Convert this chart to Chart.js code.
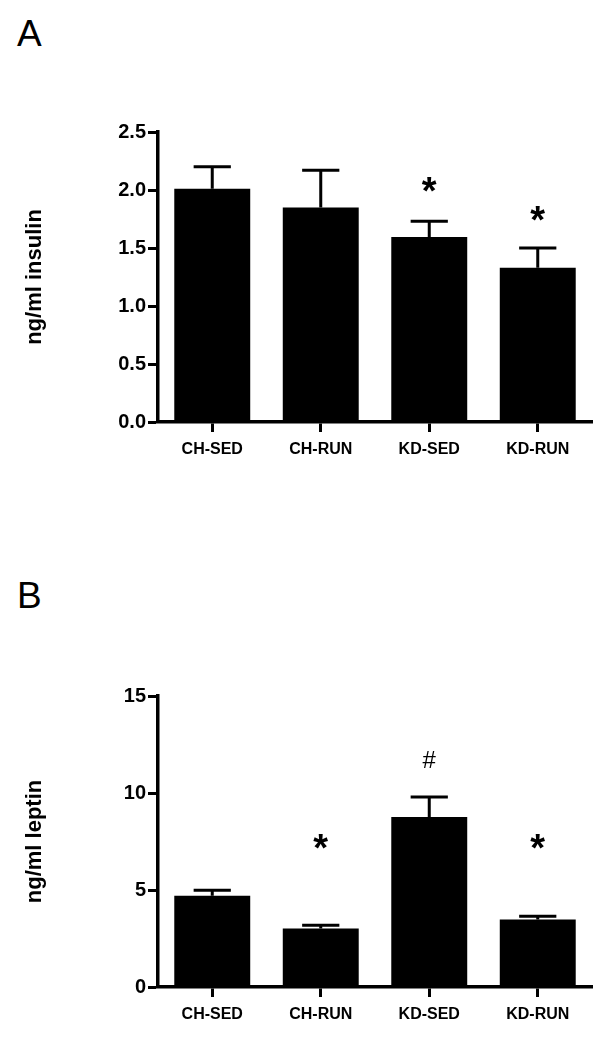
<!DOCTYPE html>
<html lang="en">
<head>
  <meta charset="UTF-8">
  <script src="https://cdn.jsdelivr.net/npm/chart.js"></script>
  <title>Insulin and leptin</title>
  <style>
    body{margin:0; background:#fff; width:614px; height:1038px; position:relative; overflow:hidden;}
    .panel{position:absolute; left:0; width:614px;}
    .letter{position:absolute; font-family:"Liberation Sans", Arial, sans-serif; font-size:37px; line-height:1; color:#000;}
  </style>
</head>
<body>
  <div class="letter" style="left:17px; top:15px;">A</div>
  <div class="panel" style="top:0; height:500px;"><canvas id="chartA"></canvas></div>
  <div class="letter" style="left:17px; top:577px;">B</div>
  <div class="panel" style="top:519px; height:519px;"><canvas id="chartB"></canvas></div>

  <script>
    const groups = ['CH-SED', 'CH-RUN', 'KD-SED', 'KD-RUN'];

    // panel A - insulin (ng/ml), mean and SEM
    const insulinMean = [2.01, 1.85, 1.595, 1.33];
    const insulinSem = [0.19, 0.32, 0.135, 0.17];
    const insulinMarks = ['', '', '*', '*'];
    const insulinMarkAt = [null, null, 2.06, 1.81];
    const insulinTicks = [0, 0.5, 1.0, 1.5, 2.0, 2.5];

    // panel B - leptin (ng/ml)
    const leptinMean = [4.70, 3.01, 8.76, 3.48];
    const leptinSem = [0.29, 0.17, 1.04, 0.17];
    const leptinMarks = ['', '*', '#', '*'];
    const leptinMarkAt = [null, 7.6, 11.7, 7.6];
    const leptinTicks = [0, 5, 10, 15];

    const FONT = '"Liberation Sans", Arial, sans-serif';

    // error bars (upper only) + significance marks
    const errPlugin = {
      id: 'errPlugin',
      afterDatasetsDraw(chart, args, opts){
        const ctx = chart.ctx;
        const xs = chart.scales.x, ys = chart.scales.y;
        const meta = chart.getDatasetMeta(0);
        ctx.save();
        ctx.strokeStyle = '#000';
        ctx.lineWidth = 3;
        opts.mean.forEach((m, i) => {
          const x = xs.getPixelForValue(i);
          const y0 = ys.getPixelForValue(m);
          const y1 = ys.getPixelForValue(m + opts.sem[i]);
          const half = meta.data[i].width * 0.245;
          ctx.beginPath();
          ctx.moveTo(x, y0); ctx.lineTo(x, y1);
          ctx.moveTo(x - half, y1); ctx.lineTo(x + half, y1);
          ctx.stroke();
          const mk = opts.marks[i];
          if (mk) {
            const y = ys.getPixelForValue(opts.markAt[i]);
            ctx.fillStyle = '#000';
            ctx.textAlign = 'center';
            ctx.textBaseline = 'alphabetic';
            if (mk === '*') {
              ctx.font = 'bold 38px ' + FONT;
              ctx.fillText(mk, x, y + 21);
            } else {
              ctx.font = '24px ' + FONT;
              ctx.fillText(mk, x, y + 8);
            }
          }
        });
        ctx.restore();
      }
    };

    function makeChart(id, mean, sem, marks, markAt, ticks, title, decimals, padTop, xHeight){
      const tickVals = ticks.slice();
      new Chart(document.getElementById(id), {
        type: 'bar',
        data: {
          labels: groups,
          datasets: [{
            data: mean,
            backgroundColor: '#000',
            borderWidth: 0,
            barPercentage: 0.7,
            categoryPercentage: 1.0
          }]
        },
        options: {
          responsive: true,
          maintainAspectRatio: false,
          animation: false,
          layout: { padding: { top: padTop, right: 22, left: 0, bottom: 0 } },
          plugins: {
            legend: { display: false },
            tooltip: { enabled: false },
            errPlugin: { mean: mean, sem: sem, marks: marks, markAt: markAt }
          },
          scales: {
            x: {
              afterFit: s => { s.height = xHeight; },
              border: { display: true, color: '#000', width: 3.5 },
              grid: { offset: false, drawOnChartArea: false, drawTicks: true, tickLength: 10, tickWidth: 3, tickColor: '#000' },
              ticks: { color: '#000', padding: 8, font: { family: FONT, size: 16, weight: 'bold' } }
            },
            y: {
              min: tickVals[0],
              max: tickVals[tickVals.length - 1],
              afterFit: s => { s.width = 158; },
              afterBuildTicks: s => { s.ticks = tickVals.map(v => ({ value: v })); },
              border: { display: true, color: '#000', width: 3.5 },
              grid: { drawOnChartArea: false, drawTicks: true, tickLength: 10, tickWidth: 3, tickColor: '#000' },
              ticks: {
                color: '#000', padding: 2,
                font: { family: FONT, size: 20, weight: 'bold' },
                callback: v => Number(v).toFixed(decimals)
              },
              title: {
                display: true, text: title, color: '#000',
                padding: { top: 22, bottom: 0 },
                font: { family: FONT, size: 22, weight: 'bold' }
              }
            }
          }
        },
        plugins: [errPlugin]
      });
    }

    makeChart('chartA', insulinMean, insulinSem, insulinMarks, insulinMarkAt, insulinTicks, 'ng/ml insulin', 1, 132, 78);
    makeChart('chartB', leptinMean, leptinSem, leptinMarks, leptinMarkAt, leptinTicks, 'ng/ml leptin', 0, 177, 51);
  </script>
</body>
</html>
